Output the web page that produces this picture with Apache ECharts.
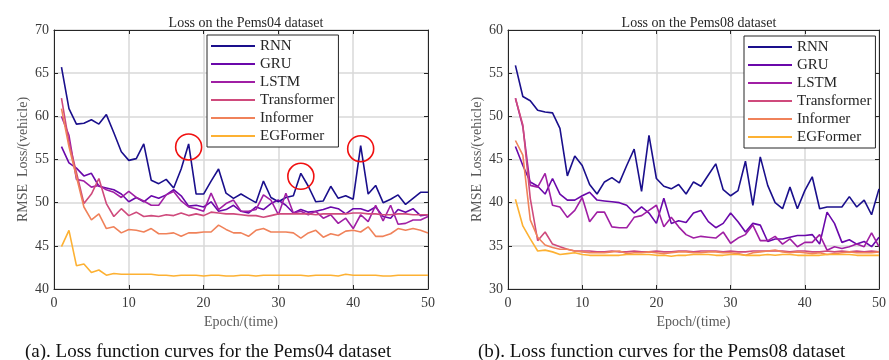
<!DOCTYPE html>
<html>
<head>
<meta charset="utf-8">
<script src="https://cdn.jsdelivr.net/npm/echarts@6/dist/echarts.min.js"></script>
<style>
  html, body { margin: 0; padding: 0; background: #fff; }
  #chart { width: 889px; height: 360px; }
</style>
</head>
<body>
<div id="chart"></div>
<script>
// Training loss (RMSE) per epoch for six models on two PeMS datasets.
const modelNames = ['RNN', 'GRU', 'LSTM', 'Transformer', 'Informer', 'EGFormer'];
const modelColors = ['#1a0f8c', '#6a08aa', '#a01fa4', '#cf4a7c', '#f0825a', '#fdb133'];
const epochs = Array.from({ length: 50 }, (_, i) => i + 1);

// Pems04
const rnn04 = [65.7, 60.9, 59.1, 59.2, 59.6, 59.1, 60.2, 58.1, 55.9, 54.9, 55.1, 56.8, 52.6, 52.2, 52.7, 51.7, 53.9, 56.8, 51.0, 51.0,
  52.5, 53.9, 51.1, 50.5, 51.0, 50.5, 50.0, 52.5, 50.6, 50.1, 50.6, 50.8, 53.4, 51.9, 50.1, 50.2, 51.9, 50.5, 50.8, 50.4,
  56.6, 51.0, 52.0, 50.0, 50.4, 50.9, 49.8, 50.5, 51.2, 51.2];
const gru04 = [56.5, 54.6, 54.0, 53.1, 53.4, 51.9, 51.7, 51.5, 51.0, 50.1, 50.6, 50.1, 50.8, 50.5, 50.9, 51.5, 50.8, 49.6, 49.7, 49.5,
  50.1, 49.0, 49.2, 49.7, 49.0, 48.8, 49.5, 49.2, 49.9, 50.3, 49.7, 48.8, 49.2, 48.9, 49.0, 49.2, 49.5, 49.3, 48.7, 49.3,
  49.3, 49.0, 49.5, 48.4, 48.2, 49.2, 48.9, 49.3, 48.5, 48.6];
const lstm04 = [60.0, 57.8, 52.7, 52.5, 51.8, 52.0, 51.5, 51.2, 50.6, 51.3, 50.6, 50.2, 49.7, 49.7, 50.9, 51.3, 50.2, 49.5, 49.3, 49.0,
  51.1, 49.2, 49.9, 50.3, 49.0, 49.0, 49.2, 50.9, 50.3, 48.6, 51.1, 48.8, 49.0, 48.6, 49.0, 48.2, 48.6, 47.6, 48.2, 47.0,
  48.6, 47.8, 49.7, 47.9, 49.7, 47.5, 47.6, 48.0, 48.0, 48.4];
const transformer04 = [62.1, 57.0, 53.5, 49.9, 51.0, 52.8, 49.9, 48.4, 49.3, 48.5, 48.9, 48.4, 48.5, 48.4, 48.6, 48.5, 48.8, 48.5, 48.7, 48.5,
  48.9, 48.8, 48.7, 48.7, 48.6, 48.5, 48.5, 48.3, 48.5, 48.7, 48.7, 48.7, 48.7, 48.7, 48.6, 48.7, 48.7, 48.7, 48.7, 48.8,
  48.8, 48.7, 48.7, 48.6, 48.6, 48.7, 48.7, 48.6, 48.6, 48.6];
const informer04 = [60.9, 56.5, 53.0, 49.5, 48.0, 48.7, 47.0, 47.2, 46.5, 46.9, 46.8, 46.6, 47.0, 46.4, 46.4, 46.5, 46.1, 46.5, 46.5, 46.6,
  46.6, 47.4, 46.9, 46.5, 46.5, 46.1, 46.8, 47.0, 46.6, 46.6, 46.6, 46.5, 45.9, 46.5, 46.8, 46.0, 46.4, 46.2, 46.7, 46.8,
  46.6, 47.2, 46.1, 46.1, 46.4, 47.0, 46.8, 47.0, 46.8, 46.5];
const egformer04 = [44.9, 46.8, 42.7, 42.9, 41.9, 42.2, 41.6, 41.8, 41.7, 41.7, 41.7, 41.7, 41.7, 41.6, 41.6, 41.5, 41.6, 41.6, 41.6, 41.5,
  41.6, 41.6, 41.5, 41.5, 41.6, 41.6, 41.5, 41.6, 41.6, 41.6, 41.6, 41.6, 41.6, 41.5, 41.6, 41.6, 41.6, 41.5, 41.7, 41.6,
  41.6, 41.6, 41.6, 41.5, 41.5, 41.6, 41.6, 41.6, 41.6, 41.6];

// Pems08
const rnn08 = [55.9, 52.3, 51.8, 50.7, 50.5, 50.4, 48.6, 43.1, 45.4, 44.3, 42.1, 41.0, 42.4, 42.9, 42.3, 44.3, 46.2, 41.3, 47.8, 42.8,
  41.9, 41.6, 42.1, 41.0, 42.4, 41.9, 43.2, 44.5, 41.5, 40.8, 41.4, 44.8, 39.7, 45.3, 42.0, 40.0, 39.3, 41.8, 39.3, 41.4,
  43.0, 39.3, 39.5, 39.5, 39.5, 40.7, 39.5, 40.3, 38.6, 41.6];
const gru08 = [46.5, 44.3, 42.4, 41.9, 41.0, 42.8, 41.0, 40.3, 40.3, 40.8, 41.2, 40.3, 40.2, 40.1, 40.0, 39.7, 38.8, 39.5, 38.8, 37.6,
  40.5, 37.6, 37.9, 37.7, 38.8, 39.1, 37.8, 37.1, 37.6, 38.8, 37.8, 36.6, 37.6, 37.4, 35.5, 35.8, 35.8, 36.0, 36.2, 36.2,
  36.3, 35.2, 38.9, 37.6, 35.4, 35.7, 35.2, 35.5, 34.9, 36.0];
const lstm08 = [52.1, 48.8, 42.0, 41.8, 43.4, 39.7, 39.5, 38.3, 39.1, 40.6, 37.8, 38.9, 38.9, 37.2, 37.1, 37.1, 38.3, 38.5, 39.1, 39.7,
  37.2, 38.3, 37.2, 36.3, 35.9, 36.1, 36.0, 35.9, 36.6, 35.3, 35.9, 36.3, 37.4, 35.6, 35.6, 36.1, 35.2, 35.8, 34.9, 35.4,
  35.4, 36.3, 34.5, 34.9, 34.7, 34.9, 35.2, 34.9, 36.5, 34.9];
const transformer08 = [52.1, 49.0, 40.5, 35.6, 36.6, 35.2, 34.9, 34.6, 34.4, 34.4, 34.4, 34.3, 34.3, 34.4, 34.3, 34.3, 34.4, 34.3, 34.3, 34.4,
  34.3, 34.3, 34.4, 34.4, 34.3, 34.4, 34.4, 34.4, 34.3, 34.4, 34.3, 34.3, 34.4, 34.4, 34.4, 34.4, 34.4, 34.3, 34.4, 34.4,
  34.3, 34.3, 34.4, 34.3, 34.4, 34.3, 34.4, 34.3, 34.4, 34.3];
const informer08 = [47.2, 45.5, 38.0, 36.0, 35.1, 34.8, 34.6, 34.6, 34.4, 34.3, 34.2, 34.2, 34.2, 34.3, 34.4, 34.1, 34.2, 34.2, 34.3, 34.2,
  34.1, 34.2, 34.3, 34.3, 34.2, 34.2, 34.3, 34.3, 34.2, 34.2, 34.1, 33.9, 34.2, 34.3, 34.4, 34.5, 34.3, 34.2, 34.3, 34.2,
  34.1, 34.2, 34.0, 34.1, 34.2, 34.3, 34.2, 34.2, 34.2, 34.3];
const egformer08 = [40.4, 37.3, 35.8, 34.4, 34.5, 34.3, 34.0, 34.1, 34.2, 34.0, 33.9, 33.9, 33.9, 33.9, 33.9, 34.0, 34.0, 34.0, 34.0, 33.9,
  33.9, 33.8, 33.9, 33.9, 34.0, 34.0, 34.0, 33.9, 33.9, 34.0, 34.0, 33.9, 33.9, 33.9, 34.0, 33.9, 34.0, 34.0, 33.9, 33.9,
  33.9, 33.9, 34.0, 34.0, 34.0, 34.0, 33.9, 33.9, 33.9, 33.9];

// Epochs where the RNN curve on Pems04 spikes (circled in red)
const spikeEpochs04 = [18, 33, 41];

const panelTitles = ['Loss on the Pems04 dataset', 'Loss on the Pems08 dataset'];
const captions = ['(a). Loss function curves for the Pems04 dataset', '(b). Loss function curves for the Pems08 dataset'];
const yRanges = [[40, 70], [30, 60]];

const serif = 'Liberation Serif, Times New Roman, serif';
const frameColor = '#262626';

const pairs = vals => vals.map((v, i) => [epochs[i], v]);

function bottomAxis(gridIndex) {
  return {
    type: 'value', gridIndex, position: 'bottom', min: 0, max: 50, interval: 10,
    name: 'Epoch/(time)', nameLocation: 'middle', nameGap: 25,
    nameTextStyle: { fontFamily: serif, fontSize: 14, color: '#5a5a5a' },
    axisLine: { show: true, onZero: false, lineStyle: { color: frameColor, width: 1 } },
    axisTick: { show: true, inside: true, length: 4, lineStyle: { color: frameColor } },
    axisLabel: { fontFamily: serif, fontSize: 14, color: '#3a3a3a', margin: 7 },
    splitLine: { show: true, lineStyle: { color: '#d9d9d9', width: 1.5 } }
  };
}
function topAxis(gridIndex) {
  return {
    type: 'value', gridIndex, position: 'top', min: 0, max: 50, interval: 10,
    axisLine: { show: true, onZero: false, lineStyle: { color: frameColor, width: 1 } },
    axisTick: { show: true, inside: true, length: 4, lineStyle: { color: frameColor } },
    axisLabel: { show: false }, splitLine: { show: false }
  };
}
function leftAxis(gridIndex, range) {
  return {
    type: 'value', gridIndex, position: 'left', min: range[0], max: range[1], interval: 5,
    name: 'RMSE  Loss/(vehicle)', nameLocation: 'middle', nameGap: 24,
    nameTextStyle: { fontFamily: serif, fontSize: 14, color: '#5a5a5a' },
    axisLine: { show: true, onZero: false, lineStyle: { color: frameColor, width: 1 } },
    axisTick: { show: true, inside: true, length: 4, lineStyle: { color: frameColor } },
    axisLabel: { fontFamily: serif, fontSize: 14, color: '#3a3a3a', margin: 5 },
    splitLine: { show: true, lineStyle: { color: '#d9d9d9', width: 1.5 } }
  };
}
function rightAxis(gridIndex, range) {
  return {
    type: 'value', gridIndex, position: 'right', min: range[0], max: range[1], interval: 5,
    axisLine: { show: true, onZero: false, lineStyle: { color: frameColor, width: 1 } },
    axisTick: { show: true, inside: true, length: 4, lineStyle: { color: frameColor } },
    axisLabel: { show: false }, splitLine: { show: false }
  };
}

function lineSeries(name, color, vals, axisIdx, extra) {
  return Object.assign({
    name, type: 'line', data: pairs(vals), xAxisIndex: axisIdx, yAxisIndex: axisIdx,
    showSymbol: false, symbol: 'none', smooth: false,
    lineStyle: { color, width: 1.6 }, itemStyle: { color }
  }, extra || {});
}

const set04 = [rnn04, gru04, lstm04, transformer04, informer04, egformer04];
const set08 = [rnn08, gru08, lstm08, transformer08, informer08, egformer08];

const series = [];
set04.forEach((vals, i) => {
  const extra = i === 0 ? {
    markPoint: {
      symbol: 'circle', symbolSize: 26, symbolOffset: [0, 3], silent: true,
      itemStyle: { color: 'rgba(0,0,0,0)', borderColor: '#f01010', borderWidth: 1.6 },
      label: { show: false },
      data: spikeEpochs04.map(e => ({ coord: [e, rnn04[e - 1]] }))
    }
  } : null;
  series.push(lineSeries(modelNames[i], modelColors[i], vals, 0, extra));
});
set08.forEach((vals, i) => series.push(lineSeries(modelNames[i], modelColors[i], vals, 2)));

function legendAt(left, top, itemWidth) {
  return {
    data: modelNames, orient: 'vertical', left, top,
    icon: 'rect', itemWidth, itemHeight: 2, itemGap: 2,
    padding: [3, 4, 3, 4],
    backgroundColor: '#ffffff', borderColor: frameColor, borderWidth: 1, borderRadius: 0,
    textStyle: { fontFamily: serif, fontSize: 15, color: '#262626', lineHeight: 16 },
    selectedMode: false
  };
}

const option = {
  animation: false,
  backgroundColor: '#ffffff',
  title: [
    { text: panelTitles[0], left: 241, top: 11, textAlign: 'center',
      textStyle: { fontFamily: serif, fontSize: 14, fontWeight: 'normal', color: '#262626' } },
    { text: panelTitles[1], left: 694, top: 11, textAlign: 'center',
      textStyle: { fontFamily: serif, fontSize: 14, fontWeight: 'normal', color: '#262626' } },
    { text: captions[0], left: 20, top: 338,
      textStyle: { fontFamily: serif, fontSize: 19, fontWeight: 'normal', color: '#111' } },
    { text: captions[1], left: 473, top: 338,
      textStyle: { fontFamily: serif, fontSize: 19, fontWeight: 'normal', color: '#111' } }
  ],
  legend: [legendAt(207, 35, 44), legendAt(744, 36, 44)],
  grid: [
    { left: 54, top: 30, width: 374, height: 259, containLabel: false },
    { left: 508, top: 30, width: 373, height: 259, containLabel: false }
  ],
  xAxis: [bottomAxis(0), topAxis(0), bottomAxis(1), topAxis(1)],
  yAxis: [leftAxis(0, yRanges[0]), rightAxis(0, yRanges[0]), leftAxis(1, yRanges[1]), rightAxis(1, yRanges[1])],
  series
};

const chart = echarts.init(document.getElementById('chart'), null, { renderer: 'canvas' });
chart.setOption(option);
</script>
</body>
</html>
